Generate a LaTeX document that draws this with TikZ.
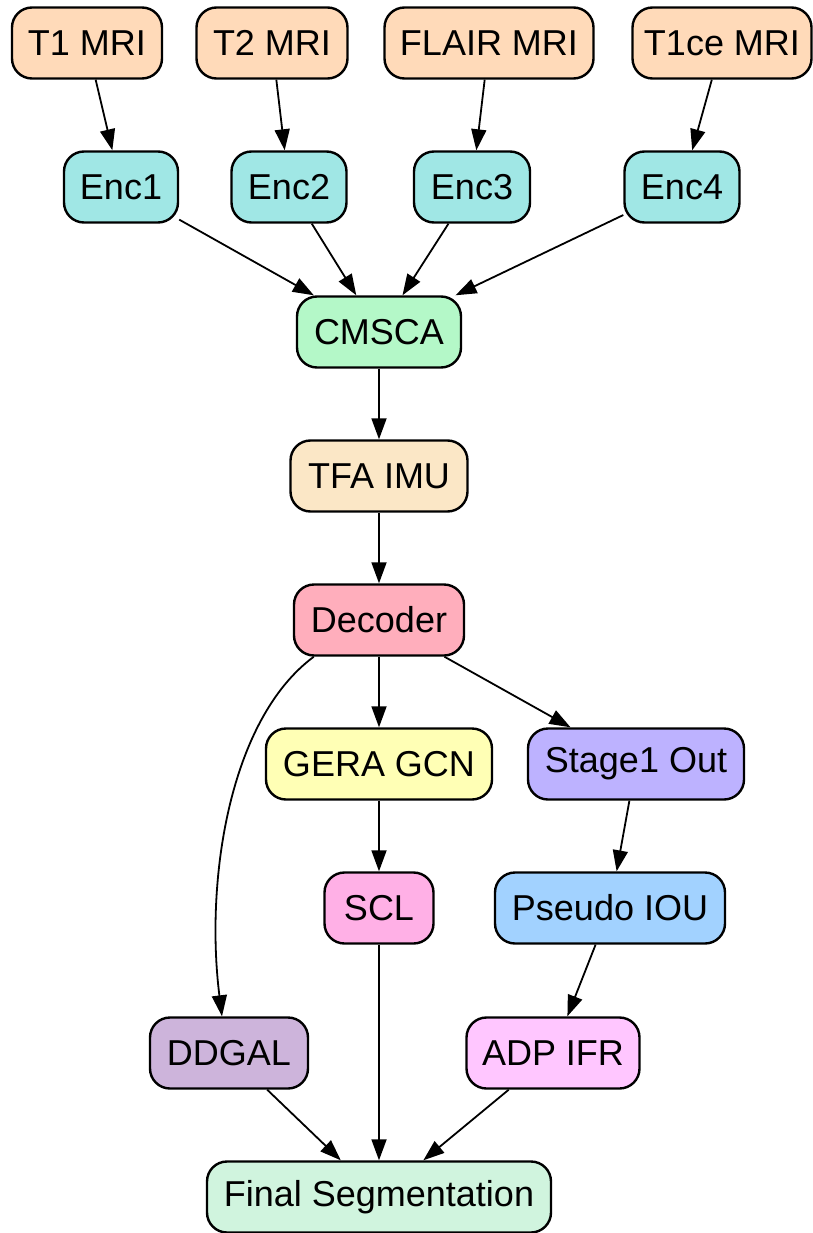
\documentclass[tikz,border=0pt]{standalone}
\usepackage{fontspec}
\setmainfont{Liberation Sans}
\usetikzlibrary{arrows.meta}
\definecolor{cpeach}{HTML}{FFDAB9}
\definecolor{cenc}{HTML}{A0E7E5}
\definecolor{ccmsca}{HTML}{B4F8C8}
\definecolor{ctfa}{HTML}{FBE7C6}
\definecolor{cdec}{HTML}{FFAEBC}
\definecolor{cgera}{HTML}{FFFFB5}
\definecolor{cstage}{HTML}{BDB2FF}
\definecolor{cscl}{HTML}{FFB0E6}
\definecolor{cpseudo}{HTML}{A2D2FF}
\definecolor{cddgal}{HTML}{CDB4DB}
\definecolor{cadp}{HTML}{FFC6FF}
\definecolor{cfinal}{HTML}{D0F4DE}
\begin{document}
\begin{tikzpicture}[x=1pt,y=-1pt,
  box/.style={draw=black, line width=2.4pt, rounded corners=20pt, minimum height=71pt,
    inner sep=0pt, font=\fontsize{36}{40}\selectfont},
  arr/.style={draw=black, line width=1.8pt, -{Triangle[length=21pt,width=15pt]}}]
\useasboundingbox (0,0) rectangle (813,1233);
\node[box, fill=cpeach, minimum width=150pt] (t1) at (87,43) {T1 MRI};
\node[box, fill=cpeach, minimum width=151pt] (t2) at (272,43) {T2 MRI};
\node[box, fill=cpeach, minimum width=209pt] (flair) at (489,43) {FLAIR MRI};
\node[box, fill=cpeach, minimum width=179pt] (t1ce) at (722,43) {T1ce MRI};
\node[box, fill=cenc, minimum width=114pt] (enc1) at (121,187) {Enc1};
\node[box, fill=cenc, minimum width=115pt] (enc2) at (289,187) {Enc2};
\node[box, fill=cenc, minimum width=116pt] (enc3) at (472,187) {Enc3};
\node[box, fill=cenc, minimum width=115pt] (enc4) at (682,187) {Enc4};
\node[box, fill=ccmsca, minimum width=164pt] (cmsca) at (379,332) {CMSCA};
\node[box, fill=ctfa, minimum width=177pt] (tfa) at (379,476) {TFA IMU};
\node[box, fill=cdec, minimum width=170pt] (dec) at (379,620) {Decoder};
\node[box, fill=cgera, minimum width=226pt] (gera) at (379,764) {GERA GCN};
\node[box, fill=cstage, minimum width=216pt] (stage) at (636,764) {Stage1 Out};
\node[box, fill=cscl, minimum width=109pt] (scl) at (379,908) {SCL};
\node[box, fill=cpseudo, minimum width=230pt] (pseudo) at (610,908) {Pseudo IOU};
\node[box, fill=cddgal, minimum width=158pt] (ddgal) at (229,1053) {DDGAL};
\node[box, fill=cadp, minimum width=173pt] (adp) at (553,1053) {ADP IFR};
\node[box, fill=cfinal, minimum width=344pt] (final) at (379,1197) {Final Segmentation};
\draw[arr] (t1) -- (enc1);
\draw[arr] (t2) -- (enc2);
\draw[arr] (flair) -- (enc3);
\draw[arr] (t1ce) -- (enc4);
\draw[arr] (enc1) -- (cmsca);
\draw[arr] (enc2) -- (cmsca);
\draw[arr] (enc3) -- (cmsca);
\draw[arr] (enc4) -- (cmsca);
\draw[arr] (cmsca) -- (tfa);
\draw[arr] (tfa) -- (dec);
\draw[arr] (dec) -- (gera);
\draw[arr] (dec) -- (stage);
\draw[arr] ([xshift=21pt]dec.south west) .. controls +(-85,63) and +(-17,-135) .. ([xshift=-7pt]ddgal.north);
\draw[arr] (gera) -- (scl);
\draw[arr] (stage) -- (pseudo);
\draw[arr] (pseudo) -- (adp);
\draw[arr] (ddgal) -- (final);
\draw[arr] (scl) -- (final);
\draw[arr] (adp) -- (final);
\end{tikzpicture}
\end{document}
